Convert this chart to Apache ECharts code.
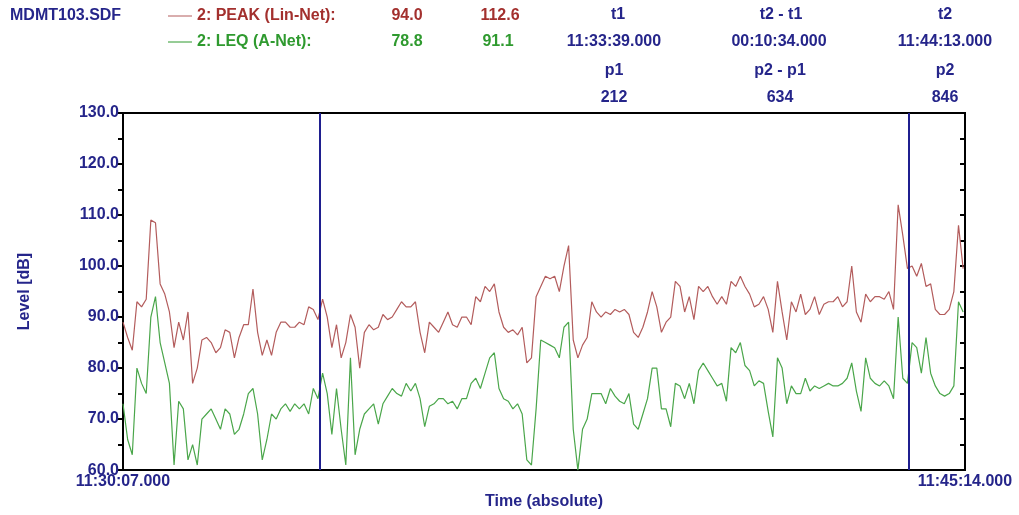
<!DOCTYPE html>
<html>
<head>
<meta charset="utf-8">
<script src="https://cdn.jsdelivr.net/npm/echarts@6/dist/echarts.min.js"></script>
<style>
  html, body { margin: 0; padding: 0; background: #fff; }
  #myCharts { width: 1019px; height: 515px; }
</style>
</head>
<body>
<div id="myCharts"></div>
<script>
// one sample every 5 s, starting at 11:30:07
const step = 5;
const duration = 907;
const timeLabels = ['11:30:07.000', '11:45:14.000'];
const cursors = [212, 846];

const peak = [
  89, 86, 83.5, 93, 92, 93.5, 109, 108.5, 96.5, 94.5, 91, 84, 89, 85.5, 91, 77, 80, 85.5, 86, 85, 83, 84, 87.5, 87,
  82, 86, 88.5, 88.5, 95.5, 87, 82.5, 85.5, 82.5, 87, 89, 89, 88, 88, 89, 88.5, 92, 91.5, 89.5, 93.5, 90, 84,
  88.5, 82, 85, 90.5, 88, 80, 87, 88.5, 87.5, 88, 90.5, 89.5, 90, 91.5, 93, 92, 92, 93, 87, 83, 89, 88, 87,
  89, 91, 88.5, 88, 90, 90, 88.5, 94, 93, 96, 95, 96.5, 91, 88, 87, 87.5, 86.5, 88, 81, 82, 94, 96, 98,
  97.5, 98, 95, 100, 104, 85.5, 82, 84.5, 86, 93, 91, 90, 91, 90.5, 91.5, 91, 91.5, 90.5, 87, 86, 88, 91, 95,
  92, 87, 89, 90, 97, 96, 91, 94, 89.5, 96, 95, 96, 94, 92.5, 94, 92.5, 97, 96, 98, 96, 94.5, 92, 92.5,
  94, 91.5, 87, 97, 91, 85.5, 93, 91, 94.5, 90.5, 91.5, 94, 90.5, 92.5, 93, 93, 94, 92, 93, 100, 91, 89, 94.5,
  93, 94, 94, 93.5, 95, 91.5, 112, 106, 99.5, 100, 98, 100.5, 96, 96.5, 91.5, 90.5, 90.5, 91.5, 95, 108, 99.5
];

const leq = [
  73, 66, 63, 80, 77, 75, 90, 94, 85, 81, 77, 61, 73.5, 72, 62, 65, 61, 70, 71, 72, 70, 68, 72, 71,
  67, 68, 71, 75, 76, 71, 62, 66, 71, 70, 72, 73, 71.5, 73, 72, 73, 71, 76, 74, 79, 75, 67,
  76, 68, 61, 82, 63, 68, 71, 72, 73, 69, 73, 74.5, 76, 75, 74.5, 77, 75.5, 77, 74, 68.5, 72.5, 73, 74,
  74, 73, 73.5, 72, 74, 74, 77, 78, 76, 79, 82, 83, 76, 74, 73.5, 72, 73, 71, 62, 61, 72, 85.5, 85,
  84.5, 84, 82, 88, 89, 68, 60, 68, 70, 75, 75, 75, 73, 76, 74.5, 73.5, 73, 75, 69, 68, 71, 74, 80,
  80, 72, 72, 68.5, 77, 76.5, 74, 77, 73, 79.5, 81, 79.5, 78, 76.5, 77, 73.5, 84, 83, 85, 80.5, 79.5, 76.5, 77.5,
  77, 71.5, 66.5, 82, 80, 73, 76.5, 75, 75, 78, 75.5, 76.5, 76, 76.5, 77, 76.5, 76.5, 77, 78, 81, 75.5, 71.5, 82,
  78, 77, 76.5, 77.5, 76.5, 74, 90, 78, 77, 85, 84, 79, 86, 79, 76.5, 75, 74.5, 75, 76.5, 93, 91
];

const navy = '#25258a';
const fontSize = 16;
const font = 'bold ' + fontSize + 'px "Liberation Sans", Arial, sans-serif';

function toPairs(values) {
  return values.map((v, i) => [i * step, v]);
}

function txt(text, x, y, color, align) {
  return {
    type: 'text', x: x, y: y,
    style: { text: text, fill: color, font: font, textAlign: align || 'center', textVerticalAlign: 'middle' }
  };
}

const labelStyle = { color: navy, fontWeight: 'bold', fontSize: fontSize, fontFamily: 'Liberation Sans' };

const option = {
  animation: false,
  backgroundColor: '#fff',
  grid: { left: 123, right: 54, top: 113, bottom: 34, show: true, borderColor: '#000', borderWidth: 2 },
  xAxis: {
    type: 'value', min: 0, max: duration, interval: duration,
    name: 'Time (absolute)', nameLocation: 'middle', nameGap: 18,
    nameTextStyle: labelStyle,
    axisLine: { lineStyle: { color: '#000', width: 2 } },
    axisTick: { show: false },
    splitLine: { show: false },
    axisLabel: Object.assign({ margin: 3, formatter: v => (v === 0 ? timeLabels[0] : timeLabels[1]) }, labelStyle)
  },
  yAxis: [{
    type: 'value', min: 60, max: 130, interval: 10,
    name: 'Level [dB]', nameLocation: 'middle', nameGap: 90, nameRotate: 90,
    nameTextStyle: labelStyle,
    axisLine: { show: true, lineStyle: { color: '#000', width: 2 } },
    axisTick: { show: true, length: 5, lineStyle: { color: '#000', width: 2 } },
    minorTick: { show: true, splitNumber: 2, length: 5, lineStyle: { color: '#000', width: 2 } },
    splitLine: { show: false },
    axisLabel: Object.assign({ margin: 4, formatter: v => v.toFixed(1) }, labelStyle)
  }, {
    type: 'value', min: 60, max: 130, interval: 10, position: 'right',
    axisLine: { show: true, lineStyle: { color: '#000', width: 2 } },
    axisTick: { show: true, inside: true, length: 5, lineStyle: { color: '#000', width: 2 } },
    minorTick: { show: true, splitNumber: 2, length: 5, lineStyle: { color: '#000', width: 2 } },
    splitLine: { show: false },
    axisLabel: { show: false }
  }],
  series: [{
    name: '2: LEQ (A-Net)', type: 'line', showSymbol: false,
    lineStyle: { color: '#4aa64a', width: 1.2 },
    data: toPairs(leq)
  }, {
    name: '2: PEAK (Lin-Net)', type: 'line', showSymbol: false,
    lineStyle: { color: '#b35c5c', width: 1.2 },
    data: toPairs(peak),
    markLine: {
      silent: true, symbol: 'none', label: { show: false },
      lineStyle: { color: '#1f1f8f', width: 2, type: 'solid' },
      data: cursors.map(c => ({ xAxis: c }))
    }
  }],
  graphic: [
    txt('MDMT103.SDF', 10, 16, navy, 'left'),
    { type: 'line', shape: { x1: 168, y1: 16, x2: 192, y2: 16 }, style: { stroke: '#b35c5c', lineWidth: 1 } },
    txt('2: PEAK (Lin-Net):', 197, 16, '#a3302e', 'left'),
    txt('94.0', 407, 16, '#a3302e'),
    txt('112.6', 500, 16, '#a3302e'),
    { type: 'line', shape: { x1: 168, y1: 42, x2: 192, y2: 42 }, style: { stroke: '#2f9a2f', lineWidth: 1 } },
    txt('2: LEQ (A-Net):', 197, 42, '#2f9a2f', 'left'),
    txt('78.8', 407, 42, '#2f9a2f'),
    txt('91.1', 498, 42, '#2f9a2f'),
    txt('t1', 618, 15, navy),
    txt('11:33:39.000', 614, 42, navy),
    txt('p1', 614, 71, navy),
    txt('212', 614, 98, navy),
    txt('t2 - t1', 781, 15, navy),
    txt('00:10:34.000', 779, 42, navy),
    txt('p2 - p1', 780, 71, navy),
    txt('634', 780, 98, navy),
    txt('t2', 945, 15, navy),
    txt('11:44:13.000', 945, 42, navy),
    txt('p2', 945, 71, navy),
    txt('846', 945, 98, navy)
  ]
};

const myChart = echarts.init(document.getElementById('myCharts'));
myChart.setOption(option);
</script>
</body>
</html>
